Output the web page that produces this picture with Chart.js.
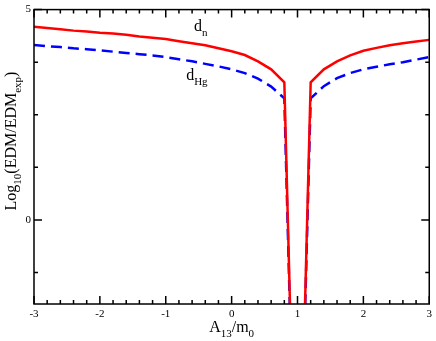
<!DOCTYPE html>
<html>
<head>
<meta charset="utf-8">
<script src="https://cdn.jsdelivr.net/npm/chart.js@4/dist/chart.umd.min.js"></script>
<style>
  html, body { margin: 0; padding: 0; background: #fff; }
  #chart { display: block; }
</style>
</head>
<body>
<canvas id="chart" width="436" height="341"></canvas>
<script>
// A13/m0 grid
const aValues = [-3, -2.8, -2.6, -2.4, -2.2, -2, -1.8, -1.6, -1.4, -1.2, -1, -0.8, -0.6, -0.4, -0.2,
    0, 0.2, 0.4, 0.6, 0.8, 1, 1.2, 1.4, 1.6, 1.8, 2, 2.2, 2.4, 2.6, 2.8, 3];
// log10(EDM/EDM_exp) for the neutron
const dnValues = [4.59, 4.56, 4.53, 4.50, 4.48, 4.45, 4.43, 4.40, 4.36, 4.33, 4.30, 4.25, 4.20, 4.15, 4.08,
    4.01, 3.92, 3.77, 3.58, 3.27, -9, 3.27, 3.58, 3.77, 3.91, 4.02, 4.09, 4.15, 4.20, 4.24, 4.28];
// ... and for mercury
const dHgValues = [4.16, 4.13, 4.11, 4.08, 4.06, 4.03, 4.00, 3.97, 3.94, 3.91, 3.87, 3.82, 3.77, 3.71, 3.65,
    3.58, 3.49, 3.36, 3.17, 2.89, -9, 2.89, 3.18, 3.37, 3.49, 3.58, 3.64, 3.70, 3.75, 3.81, 3.87];

const xTicks = [-3, -2, -1, 0, 1, 2, 3];
const xMinorTicks = [-2.8, -2.6, -2.4, -2.2, -1.8, -1.6, -1.4, -1.2, -0.8, -0.6, -0.4, -0.2,
    0.2, 0.4, 0.6, 0.8, 1.2, 1.4, 1.6, 1.8, 2.2, 2.4, 2.6, 2.8];
const yTicks = [0, 5];
const yMinorTicks = [-1.25, 1.25, 2.5, 3.75];

const serif = '"Liberation Serif", "DejaVu Serif", serif';

function toPoints(ys) {
    return aValues.map((a, i) => ({ x: a, y: ys[i] }));
}

// draw a run of [text, isSubscript] pieces starting at x (left aligned)
function drawPieces(ctx, pieces, x, y, size, subSize, subDrop) {
    let cx = x;
    pieces.forEach(p => {
        ctx.font = (p[1] ? subSize : size) + 'px ' + serif;
        ctx.fillText(p[0], cx, p[1] ? y + subDrop : y);
        cx += ctx.measureText(p[0]).width;
    });
}

function piecesWidth(ctx, pieces, size, subSize) {
    let w = 0;
    pieces.forEach(p => {
        ctx.font = (p[1] ? subSize : size) + 'px ' + serif;
        w += ctx.measureText(p[0]).width;
    });
    return w;
}

const framePlugin = {
    id: 'frame',
    afterDraw(chart) {
        const ctx = chart.ctx;
        const a = chart.chartArea;
        const xs = chart.scales.x, ys = chart.scales.y;
        ctx.save();
        ctx.strokeStyle = '#000';
        ctx.lineWidth = 1.5;
        ctx.strokeRect(a.left, a.top, a.right - a.left, a.bottom - a.top);

        ctx.beginPath();
        const tick = (vals, len) => {
            vals.forEach(v => {
                const px = xs.getPixelForValue(v);
                ctx.moveTo(px, a.bottom); ctx.lineTo(px, a.bottom - len);
                ctx.moveTo(px, a.top); ctx.lineTo(px, a.top + len);
            });
        };
        const ytick = (vals, len) => {
            vals.forEach(v => {
                const py = ys.getPixelForValue(v);
                ctx.moveTo(a.left, py); ctx.lineTo(a.left + len, py);
                ctx.moveTo(a.right, py); ctx.lineTo(a.right - len, py);
            });
        };
        tick(xTicks, 8);
        tick(xMinorTicks, 4);
        ytick(yTicks, 8);
        ytick(yMinorTicks, 4);
        ctx.stroke();

        ctx.fillStyle = '#000';
        ctx.textBaseline = 'alphabetic';
        ctx.textAlign = 'left';

        // curve labels
        drawPieces(ctx, [['d', false], ['n', true]],
            xs.getPixelForValue(-0.57), ys.getPixelForValue(4.49), 16, 11, 5);
        drawPieces(ctx, [['d', false], ['Hg', true]],
            xs.getPixelForValue(-0.69), ys.getPixelForValue(3.32), 16, 11, 5);

        // x axis title
        const xt = [['A', false], ['13', true], ['/m', false], ['0', true]];
        const xw = piecesWidth(ctx, xt, 16, 11);
        drawPieces(ctx, xt, (a.left + a.right) / 2 - xw / 2, 332, 16, 11, 5);

        // y axis title
        const yt = [['Log', false], ['10', true], ['(EDM/EDM', false], ['exp', true], [')', false]];
        const yw = piecesWidth(ctx, yt, 16, 11);
        ctx.translate(16, 141);
        ctx.rotate(-Math.PI / 2);
        drawPieces(ctx, yt, -yw / 2, 0, 16, 11, 5);
        ctx.restore();
    }
};

new Chart(document.getElementById('chart'), {
    type: 'scatter',
    data: {
        datasets: [{
            label: 'dn',
            data: toPoints(dnValues),
            showLine: true,
            borderColor: '#ff0000',
            borderWidth: 2.5,
            pointRadius: 0,
            tension: 0
        }, {
            label: 'dHg',
            data: toPoints(dHgValues),
            showLine: true,
            borderColor: '#0000ff',
            borderWidth: 2.5,
            borderDash: [11, 6],
            pointRadius: 0,
            tension: 0
        }]
    },
    options: {
        responsive: false,
        animation: false,
        layout: { padding: { top: 5, right: 4, left: 0, bottom: 0 } },
        scales: {
            x: {
                type: 'linear',
                min: -3,
                max: 3,
                afterBuildTicks: s => { s.ticks = xTicks.map(v => ({ value: v })); },
                afterFit: s => { s.height = 37; },
                grid: { display: false, drawTicks: false, tickLength: 0 },
                border: { display: false },
                ticks: {
                    color: '#000',
                    padding: 4,
                    maxRotation: 0,
                    font: { family: serif, size: 11 }
                }
            },
            y: {
                min: -2,
                max: 5,
                afterBuildTicks: s => { s.ticks = yTicks.map(v => ({ value: v })); },
                afterFit: s => { s.width = 34; },
                grid: { display: false, drawTicks: false, tickLength: 0 },
                border: { display: false },
                ticks: {
                    color: '#000',
                    padding: 3,
                    font: { family: serif, size: 11 }
                }
            }
        },
        plugins: {
            legend: { display: false },
            tooltip: { enabled: false }
        }
    },
    plugins: [framePlugin]
});
</script>
</body>
</html>
